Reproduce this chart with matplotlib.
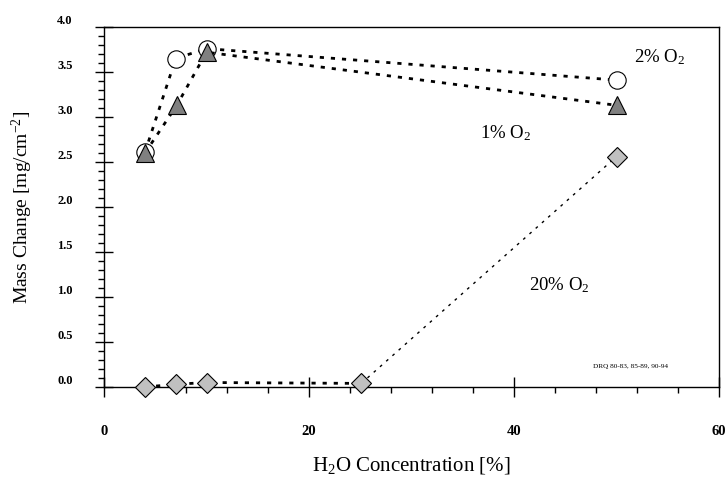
import matplotlib
matplotlib.use("Agg")
import matplotlib.pyplot as plt
from matplotlib.ticker import MultipleLocator

plt.rcParams['font.family'] = ['Liberation Serif', 'DejaVu Serif']
plt.rcParams['mathtext.fontset'] = 'custom'
plt.rcParams['mathtext.rm'] = 'Liberation Serif'
plt.rcParams['mathtext.it'] = 'Liberation Serif:italic'

# data
x_2 = [4.0, 7.0, 10.0, 50.0]
y_2 = [2.61, 3.65, 3.76, 3.41]
x_1 = [4.0, 7.1, 10.0, 50.0]
y_1 = [2.60, 3.13, 3.72, 3.13]
x_20 = [4.0, 7.0, 10.0, 25.1, 50.0]
y_20 = [0.0, 0.03, 0.05, 0.04, 2.56]
y_ticks = [0, 0.5, 1.0, 1.5, 2.0, 2.5, 3.0, 3.5, 4.0]
y_ticklabels = ['0.0', '0.5', '1.0', '1.5', '2.0', '2.5', '3.0', '3.5', '4.0']

fig = plt.figure(figsize=(7.26, 4.8), dpi=100)
ax = fig.add_axes([104/726, 1-387/480, (719-104)/726, (387-27)/480])

ax.plot(x_2, y_2, linestyle=(0, (1.5, 2.5)), color='black', lw=2.0,
        marker='o', markersize=12.5, markerfacecolor='white',
        markeredgecolor='black', markeredgewidth=0.8, zorder=3)
ax.plot(x_1, y_1, linestyle=(0, (1.5, 2.5)), color='black', lw=2.0,
        marker='^', markersize=12.5, markerfacecolor='#808080',
        markeredgecolor='black', markeredgewidth=0.8, zorder=4)
ax.plot(x_20[:4], y_20[:4], linestyle=(0, (1.5, 2.5)), color='black', lw=2.0, zorder=2)
ax.plot(x_20[3:], y_20[3:], linestyle=(0, (2.0, 4.0)), color='black', lw=1.0, zorder=2)
ax.plot(x_20, y_20, linestyle='none',
        marker='D', markersize=10, markerfacecolor='#c0c0c0',
        markeredgecolor='black', markeredgewidth=0.8, zorder=5, clip_on=False)

ax.set_xlim(0, 60)
ax.set_ylim(0, 4.0)
ax.xaxis.set_major_locator(MultipleLocator(20))
ax.xaxis.set_minor_locator(MultipleLocator(4))
ax.yaxis.set_minor_locator(MultipleLocator(0.1))
ax.set_yticks(y_ticks)
ax.set_yticklabels(y_ticklabels)

ax.tick_params(axis='y', which='major', direction='inout', length=13, width=1.0,
               pad=16, labelsize=9, right=False)
ax.tick_params(axis='y', which='minor', direction='out', length=4, width=1.0, right=False)
ax.tick_params(axis='x', which='major', direction='inout', length=15, width=1.0,
               pad=20, labelsize=10.5, top=False)
ax.tick_params(axis='x', which='minor', direction='out', length=4, width=1.0, top=False)
for lab in ax.get_yticklabels():
    lab.set_fontweight('bold')
    lab.set_verticalalignment('bottom')
for lab in ax.get_xticklabels():
    lab.set_fontweight('bold')

for sp in ax.spines.values():
    sp.set_linewidth(1.0)

ax.set_xlabel('H$_2$O Concentration [%]', fontsize=15, labelpad=12)
ax.set_ylabel('Mass Change [mg/cm$^{-2}$]', fontsize=14, labelpad=16)

ax.text(54.2, 3.66, '2% O$_2$', fontsize=13.5, ha='center', va='center')
ax.text(39.2, 2.82, '1% O$_2$', fontsize=13.5, ha='center', va='center')
ax.text(44.4, 1.13, '20% O$_2$', fontsize=13.5, ha='center', va='center')
ax.text(51.4, 0.233, 'DRQ 80-83, 85-89, 90-94', fontsize=5.2, ha='center', va='center')

fig.savefig('out.png', dpi=100)
